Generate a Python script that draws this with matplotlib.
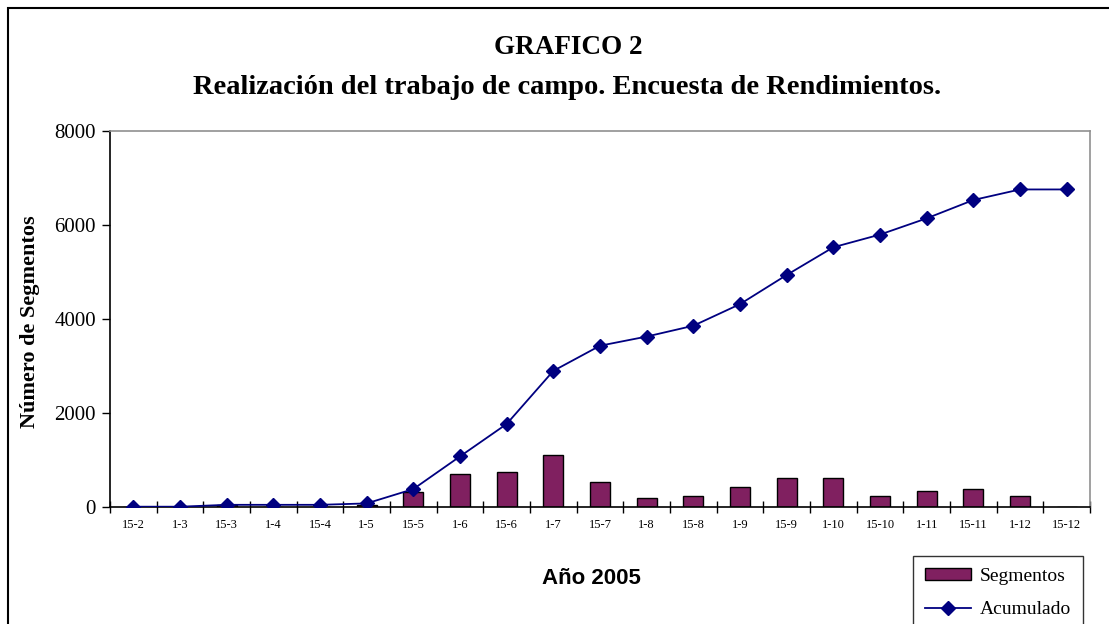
import matplotlib
matplotlib.use("Agg")
import matplotlib.pyplot as plt
from matplotlib.patches import Rectangle
from matplotlib.lines import Line2D
import numpy as np

categorias = ['15-2', '1-3', '15-3', '1-4', '15-4', '1-5', '15-5', '1-6', '15-6', '1-7',
              '15-7', '1-8', '15-8', '1-9', '15-9', '1-10', '15-10', '1-11', '15-11', '1-12', '15-12']
segmentos = [0, 0, 40, 0, 0, 30, 305, 690, 730, 1105, 525, 185, 225, 420, 610, 610, 225, 335, 375, 225, 0]
acumulado = [0, 0, 40, 40, 40, 70, 375, 1070, 1760, 2890, 3425, 3620, 3850, 4310, 4930, 5520,
             5790, 6135, 6525, 6750, 6750]
yticks = [0, 2000, 4000, 6000, 8000]

W, H = 1109, 624
fig = plt.figure(figsize=(W / 100, H / 100), dpi=100)
serif = 'Liberation Serif'
sans = 'Liberation Sans'

# outer chart frame
fig.patches.append(Rectangle((8 / W, -0.1), 1.2, 1 - 8 / H + 0.1, transform=fig.transFigure,
                             fill=False, edgecolor='black', linewidth=1.5))

ax = fig.add_axes([110 / W, 1 - 506.7 / H, (1090 - 110) / W, (506.7 - 130.7) / H])
x = np.arange(len(categorias))
ax.bar(x, segmentos, width=0.43, color='#802060', edgecolor='black', linewidth=1.0, zorder=2)
ax.plot(x, acumulado, color='#000080', linewidth=1.3, marker='D', markersize=7.5,
        markerfacecolor='#000080', markeredgecolor='#000080', zorder=3)

ax.set_xlim(-0.5, len(categorias) - 0.5)
ax.set_ylim(0, 8000)
ax.set_yticks(yticks)
ax.set_yticklabels([str(v) for v in yticks], fontfamily=serif, fontsize=15)
ax.tick_params(axis='y', direction='out', length=6, width=1, pad=4)

ax.set_xticks(np.arange(-0.5, len(categorias)), minor=False)
ax.set_xticklabels([])
ax.tick_params(axis='x', which='major', direction='inout', length=9, width=1)
ax.set_xticks(x, minor=True)
ax.set_xticklabels(categorias, minor=True, fontfamily=serif, fontsize=9)
ax.tick_params(axis='x', which='minor', length=0, pad=9)

for s in ['top', 'right']:
    ax.spines[s].set_color('#909090')
    ax.spines[s].set_linewidth(1.2)
for s in ['left', 'bottom']:
    ax.spines[s].set_color('black')
    ax.spines[s].set_linewidth(1.2)

fig.text(568 / W, 1 - 47 / H, 'GRAFICO 2', ha='center', va='center', fontfamily=serif,
         fontweight='bold', fontsize=19.5)
fig.text(567 / W, 1 - 88 / H, 'Realización del trabajo de campo. Encuesta de Rendimientos.',
         ha='center', va='center', fontfamily=serif, fontweight='bold', fontsize=20.5)
fig.text(30 / W, 1 - 322 / H, 'Número de Segmentos', ha='center', va='center', rotation=90,
         fontfamily=serif, fontweight='bold', fontsize=16)
fig.text(591 / W, 1 - 579 / H, 'Año 2005', ha='center', va='center', fontfamily=sans,
         fontweight='bold', fontsize=16)

handles = [Rectangle((0, 0), 1, 1, facecolor='#802060', edgecolor='black', linewidth=1.0),
           Line2D([0], [0], color='#000080', linewidth=1.3, marker='D', markersize=7,
                  markerfacecolor='#000080')]
leg = fig.legend(handles, ['Segmentos', 'Acumulado'], loc='upper left',
                 bbox_to_anchor=(913 / W, 1 - 556 / H), frameon=True, fancybox=False,
                 edgecolor='black', prop={'family': serif, 'size': 14}, handlelength=2.4,
                 handleheight=0.6, handletextpad=0.45, borderpad=0.6, labelspacing=0.85,
                 borderaxespad=0)
leg.get_frame().set_linewidth(1.0)

fig.savefig('out.png', dpi=100)
